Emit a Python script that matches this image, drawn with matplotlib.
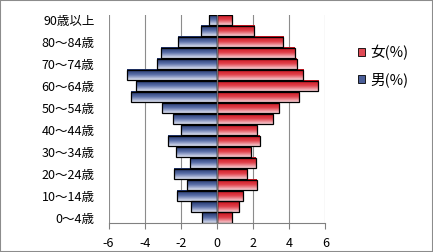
import numpy as np
import matplotlib
matplotlib.use('Agg')
import matplotlib.pyplot as plt
from matplotlib.colors import LinearSegmentedColormap
from matplotlib.patches import Patch, Rectangle

plt.rcParams['font.family'] = ['Noto Sans CJK JP', 'DejaVu Sans']

age_groups = ['0〜4歳', '5〜9歳', '10〜14歳', '15〜19歳', '20〜24歳', '25〜29歳',
              '30〜34歳', '35〜39歳', '40〜44歳', '45〜49歳', '50〜54歳', '55〜59歳',
              '60〜64歳', '65〜69歳', '70〜74歳', '75〜79歳', '80〜84歳', '85〜89歳',
              '90歳以上']
male = [-0.85, -1.42, -2.23, -1.68, -2.36, -1.51, -2.29, -2.73, -1.97, -2.45,
        -3.06, -4.77, -4.50, -5.00, -3.33, -3.10, -2.15, -0.90, -0.41]
female = [0.86, 1.25, 1.47, 2.21, 1.69, 2.14, 1.88, 2.36, 2.21, 3.13,
          3.46, 4.57, 5.62, 4.79, 4.42, 4.31, 3.68, 2.08, 0.86]
x_ticks = [-6, -4, -2, 0, 2, 4, 6]
legend_labels = ['女(%)', '男(%)']

fig = plt.figure(figsize=(4.33, 2.52), dpi=100)
ax = fig.add_axes([108.5/433, 1-223/252, (325.3-108.5)/433, (223-14.5)/252])

y = np.arange(len(age_groups))
bh = 0.92
male_cmap = LinearSegmentedColormap.from_list('m', ['#1c2f66', '#5a6fa8', '#dfe3f2'])
female_cmap = LinearSegmentedColormap.from_list('f', ['#c8101c', '#e0404a', '#f8d0d6'])

mbars = ax.barh(y, male, height=bh, facecolor='none', edgecolor='black', linewidth=0.9, zorder=3)
fbars = ax.barh(y, female, height=bh, facecolor='none', edgecolor='black', linewidth=0.9, zorder=3)

grad = np.linspace(0, 1, 64).reshape(-1, 1)
for bars, cmap in ((mbars, male_cmap), (fbars, female_cmap)):
    for p in bars:
        x0, y0 = p.get_x(), p.get_y()
        w, h = p.get_width(), p.get_height()
        ax.imshow(grad, extent=(x0, x0 + w, y0, y0 + h), cmap=cmap,
                  aspect='auto', zorder=2, interpolation='bilinear')

ax.set_xlim(-6, 6)
ax.set_ylim(-0.5, len(age_groups) - 0.5)
ax.set_xticks(x_ticks)
ax.set_xticklabels([str(t) for t in x_ticks], fontsize=9)
ax.set_yticks(y[::2])
ax.set_yticklabels(age_groups[::2], fontsize=9)
ax.tick_params(axis='y', length=0, pad=10)
ax.tick_params(axis='x', length=4, width=0.8, color='#808080', pad=6, direction='out')

ax.grid(axis='x', color='#8c8c8c', linewidth=0.8, zorder=1)
ax.set_axisbelow(True)
for s in ('top', 'right', 'left'):
    ax.spines[s].set_visible(False)
ax.spines['bottom'].set_color('#808080')
ax.spines['bottom'].set_linewidth(0.8)
ax.axvline(0, color='#707070', linewidth=0.9, zorder=4)

handles = [Patch(facecolor='#e04a55', edgecolor='black', linewidth=0.6),
           Patch(facecolor='#4a5e98', edgecolor='black', linewidth=0.6)]
fig.legend(handles, legend_labels, loc='center left', bbox_to_anchor=(345/433, 1-66/252),
           frameon=False, fontsize=10.5, handlelength=0.5, handleheight=0.5,
           handletextpad=0.35, labelspacing=0.8)

fig.patches.append(Rectangle((0, 0), 1, 1, transform=fig.transFigure, fill=False,
                             edgecolor='#8c8c8c', linewidth=1.5))

fig.savefig('out.png', dpi=100)
